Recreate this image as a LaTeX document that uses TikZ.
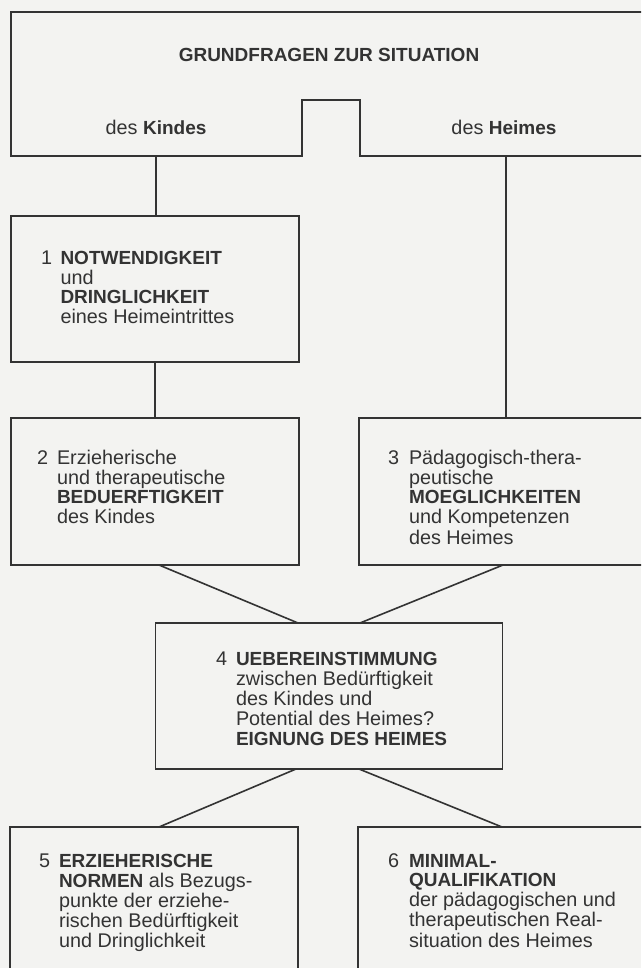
\documentclass[tikz,border=0pt]{standalone}
\usepackage{fontspec}
\setmainfont{Liberation Sans}
\usetikzlibrary{calc}
\definecolor{paper}{HTML}{F3F3F1}
\definecolor{ink}{HTML}{333333}
\newcommand\rowsof[1]{\begin{tabular}[t]{@{}l@{}}#1\end{tabular}}
\newcommand\bx[1]{{\fontsize{19}{19.5}\selectfont\bfseries #1}}
\begin{document}
\begin{tikzpicture}[x=1pt,y=-1pt,
  boxstyle/.style={draw=ink, line width=1.6pt, rectangle, inner sep=0pt, outer sep=0pt},
  conn/.style={draw=ink, line width=1.6pt},
  txt/.style={text=ink, inner sep=0pt, outer sep=0pt, font=\fontsize{19.8}{19.5}\selectfont, anchor=base west},
  numtxt/.style={txt},
  ctxt/.style={txt, anchor=base}]
\useasboundingbox (0,0) rectangle (641,968);
\fill[paper] (0,0) rectangle (641,968);
\clip (0,0) rectangle (641,968);

% top frame with notch
\draw[conn, line join=miter] (690,12) -- (11,12) -- (11,156) -- (302,156) -- (302,100) -- (360,100) -- (360,156) -- (690,156);
\coordinate (kL) at (156,156);
\coordinate (kR) at (506,156);
\node[ctxt] (title) at (329,62) {\bx{GRUNDFRAGEN ZUR SITUATION}};
\node[ctxt] (kind) at (156,135) {des \bx{Kindes}};
\node[ctxt] (heim) at (504,135) {des \bx{Heimes}};

% boxes
\node[boxstyle, minimum width=288, minimum height=146] (b1) at (155,289) {};
\node[boxstyle, minimum width=288, minimum height=147] (b2) at (155,491.5) {};
\node[boxstyle, minimum width=321, minimum height=147] (b3) at (519.5,491.5) {};
\node[boxstyle, minimum width=347, minimum height=146] (b4) at (329,696) {};
\node[boxstyle, minimum width=288, minimum height=183] (b5) at (154,918.5) {};
\node[boxstyle, minimum width=322, minimum height=183] (b6) at (519,918.5) {};

% connectors
\draw[conn] (kL) -- (kL |- b1.north);
\draw[conn] (b1.south) -- (b2.north);
\draw[conn] (kR) -- (kR |- b3.north);
\draw[conn] ($(b2.south)+(4,0)$) -- ($(b4.north)+(-31,0)$);
\draw[conn] ($(b3.south)+(-16.5,0)$) -- ($(b4.north)+(31,0)$);
\draw[conn] ($(b4.south)+(-33,0)$) -- ($(b5.north)+(5,0)$);
\draw[conn] ($(b4.south)+(30,0)$) -- ($(b6.north)+(-17,0)$);

% texts
\node[numtxt] (n1) at (41,264) {1};
\node[txt] (t1) at (60.5,264) {\rowsof{\bx{NOTWENDIGKEIT}\\ und\\ \bx{DRINGLICHKEIT}\\ eines Heimeintrittes}};
\node[numtxt] (n2) at (37,464) {2};
\node[txt] (t2) at (57,464) {\rowsof{Erzieherische\\ und therapeutische\\ \bx{BEDUERFTIGKEIT}\\ des Kindes}};
\node[numtxt] (n3) at (388,464) {3};
\node[txt] (t3) at (409,464) {\rowsof{Pädagogisch-thera-\\ peutische\\ \bx{MOEGLICHKEITEN}\\ und Kompetenzen\\ des Heimes}};
\node[numtxt] (n4) at (216,665) {4};
\node[txt] (t4) at (236,665) {\rowsof{\bx{UEBEREINSTIMMUNG}\\ zwischen Bedürftigkeit\\ des Kindes und\\ Potential des Heimes?\\ \bx{EIGNUNG DES HEIMES}}};
\node[numtxt] (n5) at (39,867) {5};
\node[txt] (t5) at (59,867) {\rowsof{\bx{ERZIEHERISCHE}\\ \bx{NORMEN} als Bezugs-\\ punkte der erziehe-\\ rischen Bedürftigkeit\\ und Dringlichkeit}};
\node[numtxt] (n6) at (388,867) {6};
\node[txt] (t6) at (409,867) {\rowsof{\bx{MINIMAL-}\\ \bx{QUALIFIKATION}\\ der pädagogischen und\\ therapeutischen Real-\\ situation des Heimes}};
\end{tikzpicture}
\end{document}
